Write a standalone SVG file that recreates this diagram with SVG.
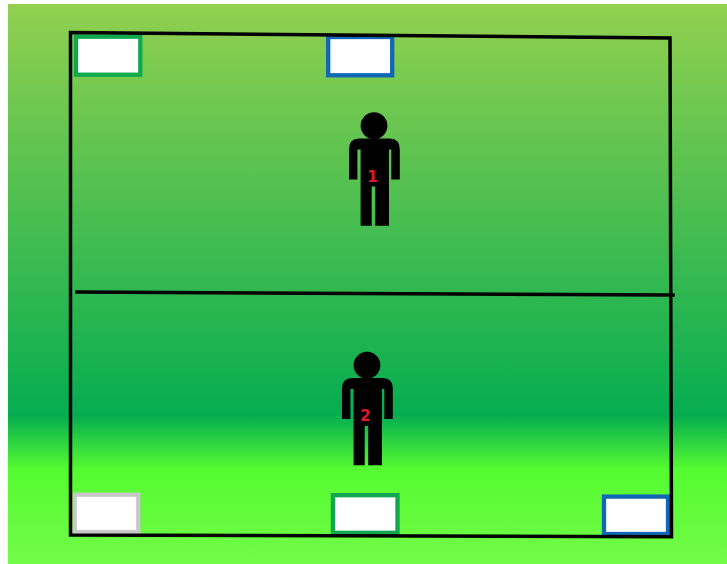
<svg xmlns="http://www.w3.org/2000/svg" width="727" height="564" viewBox="0 0 727 564">
<style>
.box{fill:#fff;stroke-width:4.3}
.green{stroke:#0fa84f}
.blue{stroke:#0f67b5}
.grey{stroke:#c8c8c8}
.wall{stroke:#000;stroke-width:3.500;fill:none;stroke-linecap:square}
.num{font-family:"DejaVu Sans",sans-serif;font-weight:700;font-size:15px;fill:#e0182c;text-anchor:middle}
</style>
<defs>
<linearGradient id="bg" x1="0" y1="0" x2="0" y2="1">
<stop offset="0" stop-color="#92d050"/>
<stop offset="0.735" stop-color="#05ad50"/>
<stop offset="0.83" stop-color="#55fb30"/>
<stop offset="1" stop-color="#72fb48"/>
</linearGradient>
<g id="person">
<circle cx="374" cy="125.700" r="13.400"/>
<path d="M359 138.500H390Q399.800 138.500 399.800 149V179.500H391.300V149.500H389V225.700H375.200V186.500H371.700V225.700H360.600V149.500H357.400V179.500H349V149Q349 138.500 359 138.500Z"/>
</g>
</defs>
<rect x="8" y="4" width="719" height="560" fill="url(#bg)"/>
<g id="box-top-left"><rect class="box green" x="76" y="36.700" width="64.300" height="38"/></g>
<g id="box-top-mid"><rect class="box blue" x="328.200" y="37" width="64" height="38.300"/></g>
<g id="box-bottom-left"><rect class="box grey" x="74.700" y="494.700" width="63.600" height="37.300"/></g>
<g id="box-bottom-mid"><rect class="box green" x="332.900" y="495.200" width="64.600" height="37.600"/></g>
<g id="box-bottom-right"><rect class="box blue" x="604" y="496.600" width="64" height="37.400"/></g>
<g id="connectors">
<path class="wall" d="M70.500 32.500L670 38L671.500 536.700L70.500 535Z"/>
<path class="wall" d="M77 292L673 295"/>
</g>
<g id="person-1"><use href="#person"/><text class="num" x="372.500" y="181.700">1</text></g>
<g id="person-2"><use href="#person" x="-7" y="239.500"/><text class="num" x="365.500" y="420.500">2</text></g>
</svg>
